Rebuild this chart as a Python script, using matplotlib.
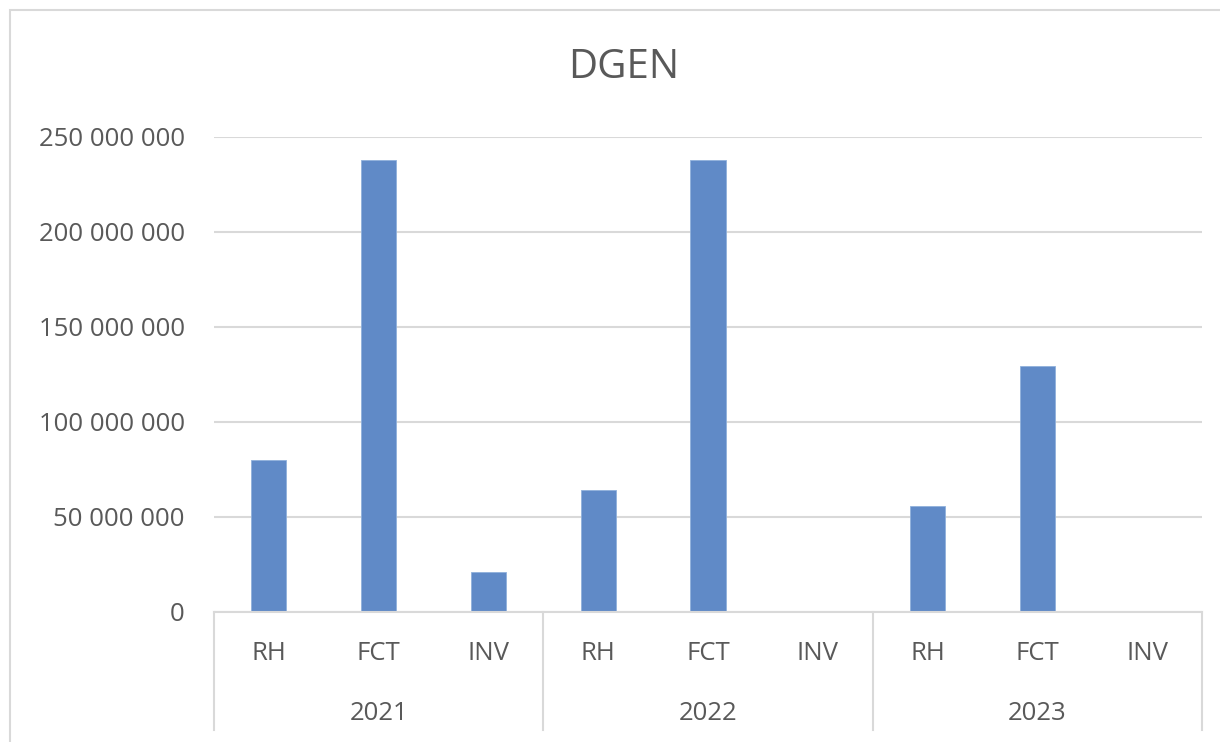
import matplotlib
matplotlib.use("Agg")
import matplotlib.pyplot as plt
from matplotlib.lines import Line2D
from matplotlib.patches import Rectangle
from matplotlib.ticker import FuncFormatter

years = ["2021", "2022", "2023"]
categories = ["RH", "FCT", "INV"]
values = [
    [79.5e6, 237.7e6, 21.0e6],
    [64.0e6, 237.7e6, 0.0],
    [55.3e6, 129.0e6, 0.0],
]
yticks = [0, 50e6, 100e6, 150e6, 200e6, 250e6]
title = "DGEN"

plt.rcParams['font.family'] = ['Open Sans', 'DejaVu Sans']
TXT = '#595959'
GRID = '#d9d9d9'
BAR = '#608AC7'

W, H = 1220, 742
fig = plt.figure(figsize=(W / 100, H / 100), dpi=100)

# outer chart border
fig.patches.append(Rectangle((10 / W, -0.1), 1.2, (H - 10) / H + 0.1,
                             transform=fig.transFigure, fill=False,
                             edgecolor=GRID, linewidth=1.5))

left, right = 214, 1202
y0, y250 = 611.5, 136.5
ax = fig.add_axes([left / W, (H - y0) / H, (right - left) / W, (y0 - y250) / H])

xs, labels, heights = [], [], []
for gi, yr in enumerate(years):
    for ci, cat in enumerate(categories):
        xs.append(gi * len(categories) + ci)
        labels.append(cat)
        heights.append(values[gi][ci])

ax.bar(xs, heights, width=0.32, color=BAR, edgecolor='#8fb0dc', linewidth=0.6, zorder=3)
n = len(xs)
ax.set_xlim(-0.5, n - 0.5)
ax.set_ylim(0, 250e6)
ax.set_yticks(yticks)
ax.yaxis.set_major_formatter(FuncFormatter(lambda v, p: f"{int(v):,}".replace(",", " ")))
ax.tick_params(axis='y', length=0, pad=21, labelsize=18.5, labelcolor=TXT)
ax.grid(axis='y', color=GRID, linewidth=1.5, zorder=0)
ax.set_xticks([])
for s in ['top', 'right', 'left']:
    ax.spines[s].set_visible(False)
ax.spines['bottom'].set_color(GRID)
ax.spines['bottom'].set_linewidth(1.5)
ax.spines['bottom'].set_zorder(4)

# category labels
trans = ax.get_xaxis_transform()
px = 1.0 / (y0 - y250)
for x, lab in zip(xs, labels):
    ax.text(x, -(653 - y0) * px, lab, transform=trans, ha='center', va='center',
            fontsize=18.5, color=TXT)
for gi, yr in enumerate(years):
    cx = gi * len(categories) + (len(categories) - 1) / 2
    ax.text(cx, -(713 - y0) * px, yr, transform=trans, ha='center', va='center',
            fontsize=18.5, color=TXT)
# separators
for gi in range(len(years) + 1):
    xb = gi * len(categories) - 0.5
    ax.add_line(Line2D([xb, xb], [0, -(730 - y0) * px], transform=trans,
                       color=GRID, linewidth=1.5, clip_on=False))

fig.text(624 / W, 1 - 68 / H, title, ha='center', va='center', fontsize=29, color=TXT)

fig.savefig("out.png", dpi=100, facecolor='white')
